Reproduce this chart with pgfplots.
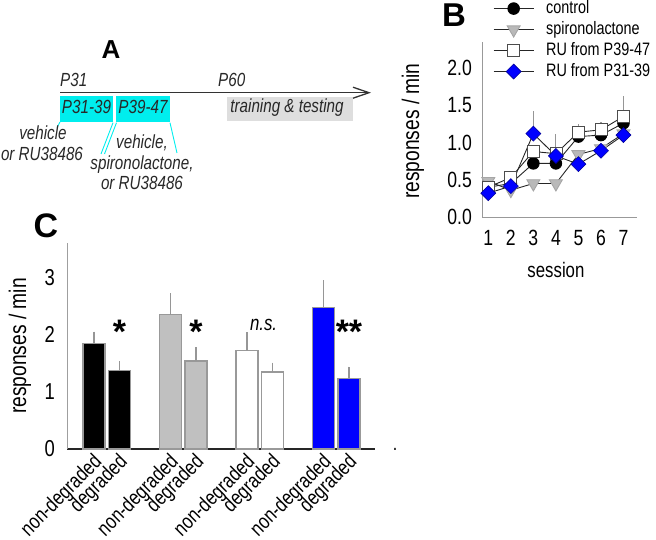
\documentclass[border=0pt]{standalone}
\usepackage{fontspec}
\setmainfont{Liberation Sans}[FakeStretch=0.8]
\newfontfamily\panelfont{Liberation Sans}
\usepackage{pgfplots}
\pgfplotsset{compat=1.18}
\usetikzlibrary{arrows.meta}
\definecolor{cyanbox}{RGB}{0,238,238}
\definecolor{graybox}{RGB}{222,222,222}
\definecolor{txt}{RGB}{40,40,40}
\definecolor{barblue}{RGB}{0,0,255}
\definecolor{bargray}{RGB}{192,192,192}
\definecolor{errgray}{RGB}{150,150,150}
\newcommand\fs[1]{\fontsize{#1pt}{#1pt}\selectfont}
\pgfplotsset{
  cbar/.style={ybar, bar width=22pt, bar shift=0pt, draw=gray!80, line width=1.5pt,
    /pgfplots/error bars/y dir=plus, /pgfplots/error bars/y explicit,
    /pgfplots/error bars/error mark=none,
    /pgfplots/error bars/error bar style={errgray, line width=1.2pt}},
  berr/.style={/pgfplots/error bars/y dir=plus, /pgfplots/error bars/y explicit,
    /pgfplots/error bars/error mark=none,
    /pgfplots/error bars/error bar style={errgray, line width=1.1pt}},
}
\begin{document}
\begin{tikzpicture}[x=1pt,y=1pt]
\useasboundingbox (0,0) rectangle (656,539);
% ---------------- Panel A (timeline diagram) ----------------
\begin{scope}[font=\itshape\fs{19}, text=txt, every node/.style={inner sep=0pt}]
\fill[cyanbox] (60,417) rectangle (113,443);
\fill[cyanbox] (116,417) rectangle (170,443);
\fill[graybox] (227,418) rectangle (353,442);
\draw[line width=1.5pt, black!80, -{Straight Barb[length=16pt, width=11pt, line width=1.3pt]}] (60,446.3) -- (371,446.3);
\node[anchor=base west] at (60,452.3) {P31};
\node[anchor=base west] at (218,452.3) {P60};
\node[anchor=base] at (86.5,425.7) {P31-39};
\node[anchor=base] at (143,425.7) {P39-47};
\node[anchor=base] at (287,426.3) {training \& testing};
\draw[cyanbox, line width=0.9pt] (60,417) -- (57,411.5);
\draw[cyanbox, line width=0.9pt] (113,416.3) -- (101,385);
\draw[cyanbox, line width=0.9pt] (116.5,416.3) -- (104.5,385);
\draw[cyanbox, line width=0.9pt] (170,416.3) -- (177,386);
\node[anchor=base] at (43,399.5) {vehicle};
\node[anchor=base] at (42,378.5) {or RU38486};
\node[anchor=base] at (142,390) {vehicle,};
\node[anchor=base] at (142,369) {spironolactone,};
\node[anchor=base] at (142,349) {or RU38486};
\node[font=\panelfont\bfseries\fs{26}, text=black] at (111,489) {A};
\end{scope}
\node[inner sep=0pt, font=\panelfont\bfseries\fs{33}] at (454,524) {B};
\node[inner sep=0pt, font=\panelfont\bfseries\fs{34}] at (46,313.5) {C};
\node[inner sep=0pt, anchor=base, font=\fs{20}] at (395,89) {.};
% ---------------- Panel B (line chart) ----------------
\begin{axis}[
  at={(482pt,322pt)}, anchor=south west, scale only axis, width=155pt, height=175pt,
  xmin=0.72, xmax=7.6, ymin=0, ymax=2.35,
  axis x line*=bottom, axis y line*=left,
  axis line style={draw=gray!80, line width=1pt, -},
  major tick length=0pt,
  xtick={1,2,3,4,5,6,7}, xticklabels={1,2,3,4,5,6,7},
  ytick={0,0.5,1,1.5,2}, yticklabels={0.0,0.5,1.0,1.5,2.0},
  tick label style={font=\fs{22}},
  yticklabel style={anchor=east, inner sep=0pt, xshift=-10pt},
  xticklabel style={anchor=north, inner sep=0pt, yshift=-13pt},
  xlabel={session}, ylabel={responses / min},
  every axis x label/.style={at={(axis description cs:0.477,-0.30)}, anchor=center, font=\fs{21}},
  every axis y label/.style={at={(axis description cs:-0.445,0.491)}, rotate=90, anchor=center, font=\fs{24}},
  legend style={at={(axis description cs:0.071,1.235)}, anchor=north west, draw=none, fill=none,
    inner sep=0pt, column sep=12pt, row sep=6pt, font=\fs{18}, cells={anchor=west},
    nodes={inner sep=0pt, text height=12pt, text depth=3pt}},
  legend image code/.code={\draw[mark repeat=2,mark phase=2] plot coordinates {(0pt,0pt) (20pt,0pt) (40pt,0pt)};},
  clip=false,
]
\addplot[black!85, line width=0.9pt, mark=*, mark size=5.8pt, mark options={fill=black, draw=black, solid}, berr]
  coordinates {(1,0.40) +- (0,0) (2,0.45) +- (0,0) (3,0.72) +- (0,0) (4,0.72) +- (0,0) (5,1.08) +- (0,0) (6,1.10) +- (0,0) (7,1.26) +- (0,0)};
\addlegendentry{control}
\addplot[black!85, line width=0.9pt, mark=triangle*, mark size=7.5pt, mark options={rotate=180, fill=gray!55, draw=gray!70, solid}, berr]
  coordinates {(1,0.48) +- (0,0) (2,0.36) +- (0,0) (3,0.45) +- (0,0) (4,0.45) +- (0,0) (5,0.84) +- (0,0) (6,0.92) +- (0,0) (7,1.12) +- (0,0)};
\addlegendentry{spironolactone}
\addplot[black!85, line width=0.9pt, mark=square*, mark size=6pt, mark options={fill=white, draw=black!70, line width=0.8pt, solid}, berr]
  coordinates {(1,0.40) +- (0,0) (2,0.53) +- (0,0) (3,0.88) +- (0,0) (4,0.85) +- (0,0) (5,1.14) +- (0,0.11) (6,1.17) +- (0,0.11) (7,1.35) +- (0,0.28)};
\addlegendentry{RU from P39-47}
\addplot[black!85, line width=0.9pt, mark=square*, mark size=5.3pt, mark options={rotate=45, fill=barblue, draw=blue!60!black, line width=0.6pt, solid}, berr]
  coordinates {(1,0.32) +- (0,0) (2,0.415) +- (0,0) (3,1.12) +- (0,0.31) (4,0.82) +- (0,0.30) (5,0.71) +- (0,0) (6,0.89) +- (0,0) (7,1.10) +- (0,0)};
\addlegendentry{RU from P31-39}
\end{axis}
% ---------------- Panel C (bar chart) ----------------
\begin{axis}[
  at={(67pt,90pt)}, anchor=south west, scale only axis, width=308pt, height=206pt,
  xmin=-1.06, xmax=11.02, ymin=0, ymax=3.6,
  axis x line*=bottom, axis y line*=left,
  x axis line style={draw=black!85, line width=1.6pt, -},
  y axis line style={draw=gray!75, line width=1pt, -},
  major tick length=0pt,
  xtick={0,1,3,4,6,7,9,10},
  xticklabels={non-degraded,degraded,non-degraded,degraded,non-degraded,degraded,non-degraded,degraded},
  ytick={0,1,2,3}, yticklabels={0,1,2,3},
  yticklabel style={font=\fs{23}, anchor=east, inner sep=0pt, xshift=-12pt},
  xticklabel style={font=\fs{21}, inner sep=0pt, xshift=-2pt, yshift=-3pt, rotate=45, anchor=north east},
  ylabel={responses / min},
  every axis y label/.style={at={(axis description cs:-0.153,0.5)}, rotate=90, anchor=center, font=\fs{24}},
  clip=false,
]
\addplot[fill=black, cbar] coordinates {(0,1.84) +- (0,0.21) (1,1.37) +- (0,0.16)};
\addplot[fill=bargray, cbar] coordinates {(3,2.35) +- (0,0.37) (4,1.54) +- (0,0.24)};
\addplot[fill=white, cbar] coordinates {(6,1.72) +- (0,0.32) (7,1.35) +- (0,0.16)};
\addplot[fill=barblue, cbar] coordinates {(9,2.47) +- (0,0.48) (10,1.23) +- (0,0.21)};
\node[inner sep=0pt, anchor=base, font=\panelfont\bfseries\fs{34}] at (axis cs:1,1.85) {*};
\node[inner sep=0pt, anchor=base, font=\panelfont\bfseries\fs{34}] at (axis cs:4,1.85) {*};
\node[inner sep=0pt, anchor=base, font=\itshape\fs{21}] at (axis cs:6.65,2.07) {n.s.};
\node[inner sep=0pt, anchor=base, font=\panelfont\bfseries\fs{34}] at (axis cs:10,1.85) {**};
\end{axis}
\end{tikzpicture}
\end{document}
